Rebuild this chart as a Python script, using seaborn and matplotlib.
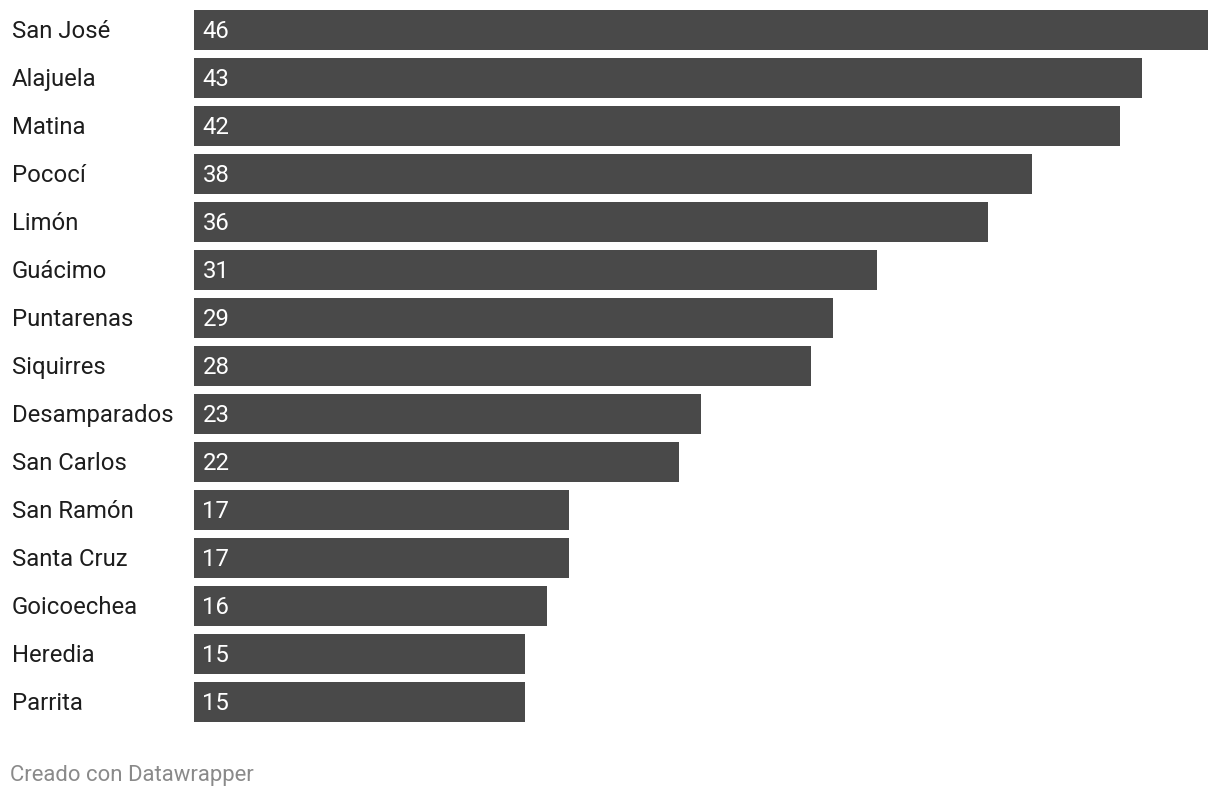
import matplotlib
matplotlib.use("Agg")
import matplotlib.pyplot as plt
import matplotlib.transforms as mtransforms
import seaborn as sns
import pandas as pd

categories = ["San José", "Alajuela", "Matina", "Pococí", "Limón", "Guácimo",
              "Puntarenas", "Siquirres", "Desamparados", "San Carlos",
              "San Ramón", "Santa Cruz", "Goicoechea", "Heredia", "Parrita"]
values = [46, 43, 42, 38, 36, 31, 29, 28, 23, 22, 17, 17, 16, 15, 15]
footer = "Creado con Datawrapper"

sns.set_theme(style="white")
plt.rcParams["font.family"] = ["Roboto", "DejaVu Sans"]

W, H = 1220, 798
fig = plt.figure(figsize=(W / 100, H / 100), dpi=100)
ax = fig.add_axes([194 / W, 1 - 726 / H, (1208 - 194) / W, 720 / H])

df = pd.DataFrame({"cat": categories, "val": values})
sns.barplot(data=df, x="val", y="cat", order=categories, color="#494949",
            saturation=1, width=40 / 48, ax=ax, orient="h", linewidth=0)

ax.set_xlim(0, max(values))
ax.set_ylim(len(categories) - 0.5, -0.5)
ax.set_xlabel("")
ax.set_ylabel("")
ax.set_xticks([])
ax.set_yticks([])
for s in ax.spines.values():
    s.set_visible(False)

up = 1.2 * 72 / 100
trans_lab = mtransforms.offset_copy(
    mtransforms.blended_transform_factory(fig.transFigure, ax.transData),
    fig=fig, x=0, y=up, units="points")
off = mtransforms.offset_copy(ax.transData, fig=fig, x=8.5 * 72 / 100, y=up, units="points")
for i, (c, v) in enumerate(zip(categories, values)):
    ax.text(12 / W, i, c, transform=trans_lab, ha="left", va="center_baseline",
            fontsize=17.2, color="#1d1d1d")
    ax.text(0, i, str(v), transform=off, ha="left", va="center_baseline",
            fontsize=17.2, color="white")

fig.text(10 / W, 1 - 773 / H, footer, ha="left", va="center_baseline",
         fontsize=15.9, color="#8a8a8a")

fig.savefig("out.png", dpi=100, facecolor="white")
